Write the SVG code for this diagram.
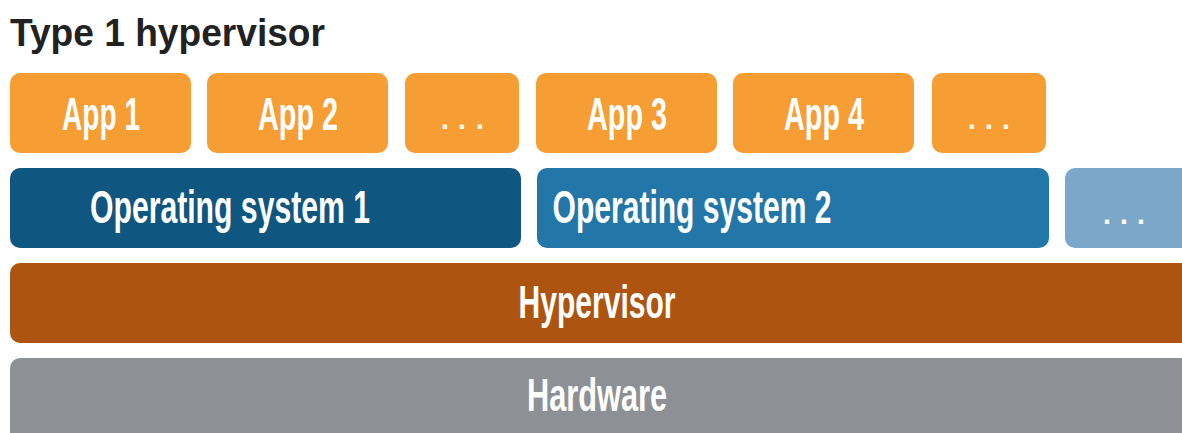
<svg xmlns="http://www.w3.org/2000/svg" width="1182" height="433" viewBox="0 0 1182 433">
<style>
.bg{fill:#ffffff}
.app{fill:#F69D33}
.os1{fill:#0F5680}
.os2{fill:#2277A8}
.osx{fill:#7AA7CA}
.hyp{fill:#AD5411}
.hw{fill:#8D9195}
.lbl{font-family:"Liberation Sans","DejaVu Sans",sans-serif;font-weight:bold;fill:#ffffff;text-anchor:middle}
.dots{font-family:"Liberation Sans","DejaVu Sans",sans-serif;font-weight:bold;fill:#fff6ea;text-anchor:middle;font-size:30px}
.title{font-family:"Liberation Sans","DejaVu Sans",sans-serif;font-weight:bold;fill:#222222;font-size:38px}
</style>
<rect class="bg" x="0" y="0" width="1182" height="433"/>
<text class="title" x="10" y="46" textLength="315" lengthAdjust="spacingAndGlyphs">Type 1 hypervisor</text>
<g id="app1"><rect class="app" x="10" y="73" width="181" height="80" rx="10"/><text class="lbl" x="101" y="130" font-size="46" textLength="78" lengthAdjust="spacingAndGlyphs">App 1</text></g>
<g id="app2"><rect class="app" x="207" y="73" width="181" height="80" rx="10"/><text class="lbl" x="298" y="130" font-size="46" textLength="80" lengthAdjust="spacingAndGlyphs">App 2</text></g>
<g id="appdots1"><rect class="app" x="405" y="73" width="114" height="80" rx="10"/><text class="dots" x="445 462 480" y="129">...</text></g>
<g id="app3"><rect class="app" x="536" y="73" width="181" height="80" rx="10"/><text class="lbl" x="627" y="130" font-size="46" textLength="80" lengthAdjust="spacingAndGlyphs">App 3</text></g>
<g id="app4"><rect class="app" x="733" y="73" width="181" height="80" rx="10"/><text class="lbl" x="824" y="130" font-size="46" textLength="80" lengthAdjust="spacingAndGlyphs">App 4</text></g>
<g id="appdots2"><rect class="app" x="932" y="73" width="114" height="80" rx="10"/><text class="dots" x="972 989 1006" y="129">...</text></g>
<g id="os1"><rect class="os1" x="10" y="168" width="511" height="80" rx="10"/><text class="lbl" x="230" y="223" font-size="46" textLength="280" lengthAdjust="spacingAndGlyphs">Operating system 1</text></g>
<g id="os2"><rect class="os2" x="537" y="168" width="512" height="80" rx="10"/><text class="lbl" x="692" y="223" font-size="46" textLength="279" lengthAdjust="spacingAndGlyphs">Operating system 2</text></g>
<g id="osdots"><rect class="osx" x="1065" y="168" width="127" height="80" rx="10"/><text class="dots" x="1107 1124 1141" y="224">...</text></g>
<g id="hypervisor"><rect class="hyp" x="10" y="263" width="1182" height="80" rx="10"/><text class="lbl" x="597" y="318" font-size="46" textLength="157" lengthAdjust="spacingAndGlyphs">Hypervisor</text></g>
<g id="hardware"><rect class="hw" x="10" y="358" width="1182" height="90" rx="10"/><text class="lbl" x="597" y="411" font-size="46" textLength="140" lengthAdjust="spacingAndGlyphs">Hardware</text></g>
<g id="connectors"></g>
</svg>
